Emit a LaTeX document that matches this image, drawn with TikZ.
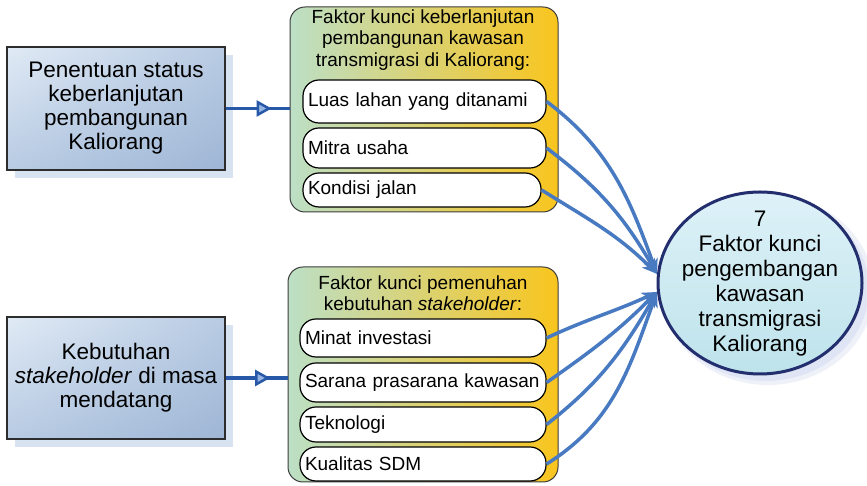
\documentclass[tikz,border=0pt]{standalone}
\usepackage{fontspec}
\setmainfont{Liberation Sans}
\usetikzlibrary{arrows.meta,decorations.markings,shapes.geometric,shadings}

\definecolor{boxlt}{RGB}{224,234,245}
\definecolor{boxmd}{RGB}{184,203,227}
\definecolor{boxdk}{RGB}{158,182,213}
\definecolor{boxsh}{RGB}{216,227,241}
\definecolor{grpL}{RGB}{188,223,198}
\definecolor{grpM}{RGB}{222,230,122}
\definecolor{grpR}{RGB}{249,197,30}
\definecolor{linkdk}{RGB}{40,88,168}
\definecolor{linklt}{RGB}{72,122,193}
\definecolor{tipfill}{RGB}{150,180,225}
\definecolor{ellL}{RGB}{222,241,248}
\definecolor{ellD}{RGB}{190,227,235}
\definecolor{ellB}{RGB}{35,46,110}
\definecolor{ellS}{RGB}{208,216,238}

\tikzset{
  srcbox/.style={draw={rgb,255:red,45;green,45;blue,45}, line width=1.4pt,
    minimum width=218pt, minimum height=122pt, inner sep=0pt,
    upper left=boxlt, upper right=boxmd, lower left=boxmd, lower right=boxdk,
    align=center, font=\fontsize{22.5}{24}\selectfont},
  grpbox/.style={draw={rgb,255:red,60;green,60;blue,60}, line width=1pt,
    rounded corners=15pt, inner sep=0pt,
    left color=grpL, middle color=grpM, right color=grpR},
  grptitle/.style={align=center, inner sep=0pt, font=\fontsize{19}{21.5}\selectfont},
  itembox/.style={draw=black, line width=1.2pt, fill=white, rounded corners=16pt,
    inner xsep=5pt, inner ysep=0pt, align=left, font=\fontsize{19}{22}\selectfont},
  goalnode/.style={ellipse, draw=ellB, line width=3pt, inner sep=0pt,
    minimum width=204pt, minimum height=182pt,
    upper left=ellL, upper right=ellL, lower left=ellD, lower right=ellD},
  goaltxt/.style={align=center, inner sep=0pt, font=\fontsize{22.5}{25}\selectfont},
  feed/.style={line width=3.5pt, draw=linkdk,
    decoration={markings, mark=at position 0.72 with
      {\arrow{Triangle[length=15pt,width=16pt,line width=2.5pt,fill=tipfill]}}},
    postaction=decorate},
  link/.style={line width=3.5pt, draw=linklt,
    -{Stealth[length=15pt,width=12pt,inset=4pt]}}
}

\begin{document}
\begin{tikzpicture}[x=1pt,y=1pt]
\useasboundingbox (0,0) rectangle (867,486);

% source boxes with their drop shadows
\fill[boxsh] (15,308) rectangle (233,431);
\node[srcbox, minimum height=123pt] (s1) at (116,377.5)
  {Penentuan status\\keberlanjutan\\pembangunan\\Kaliorang};
\fill[boxsh] (15,39) rectangle (233,161);
\node[srcbox] (s2) at (116,108)
  {Kebutuhan\\\textit{stakeholder} di masa\\mendatang};

% factor groups
\node[grpbox, minimum width=268pt, minimum height=205pt] (g1) at (424,376.5) {};
\node[grptitle] (t1) at (423,446)
  {Faktor kunci keberlanjutan\\pembangunan kawasan\\transmigrasi di Kaliorang:};
\node[itembox, text width=233pt, minimum height=43pt] (a1) at (424.5,384.5) {Luas lahan yang ditanami};
\node[itembox, text width=233pt, minimum height=40pt] (a2) at (424.5,338) {Mitra usaha};
\node[itembox, text width=228pt, minimum height=34pt] (a3) at (422,296) {Kondisi jalan};

\node[grpbox, minimum width=270pt, minimum height=215pt] (g2) at (423,111.5) {};
\node[grptitle] (t2) at (423,193)
  {Faktor kunci pemenuhan\\kebutuhan \textit{stakeholder}:};
\node[itembox, text width=236pt, minimum height=38pt] (b1) at (423,148) {Minat investasi};
\node[itembox, text width=236pt, minimum height=39pt] (b2) at (423,103.5) {Sarana prasarana kawasan};
\node[itembox, text width=236pt, minimum height=35pt] (b3) at (423,61.5) {Teknologi};
\node[itembox, text width=236pt, minimum height=34pt] (b4) at (423,22) {Kualitas SDM};

% goal ellipse with a soft shadow
\fill[ellS, opacity=0.35] (768,196) ellipse (106 and 95);
\fill[ellS, opacity=0.5] (766,197) ellipse (103 and 92);
\node[goalnode] (goal) at (760,203) {};
\node[goaltxt] (goaltext) at (760,202.5)
  {7\\Faktor kunci\\pengembangan\\kawasan\\transmigrasi\\Kaliorang};

% inputs into the groups
\draw[feed] (s1.east) -- (s1.east -| g1.west);
\draw[feed] (s2.east) -- (s2.east -| g2.west);

% factors converging on the goal
\draw[link] (a1.east) to[out=-37,in=110] (goal.175);
\draw[link] (a2.east) to[out=-37,in=120] (goal.175);
\draw[link] (a3.east) to[out=-32,in=135] (goal.175);
\draw[link] (b1.east) to[out=25,in=-155] (goal.185);
\draw[link] (b2.east) to[out=35,in=-135] (goal.185);
\draw[link] (b3.east) to[out=38,in=-120] (goal.185);
\draw[link] (b4.east) to[out=32,in=-110] (goal.185);
\end{tikzpicture}
\end{document}
